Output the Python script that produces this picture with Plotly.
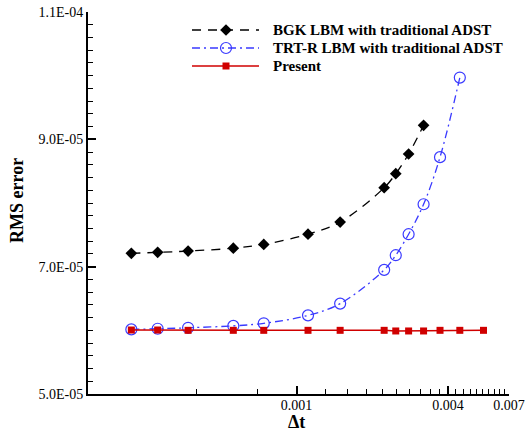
import plotly.graph_objects as go

# Data
dt_bgk = [2.2e-4, 2.8e-4, 3.7e-4, 5.6e-4, 7.4e-4, 1.11e-3, 1.49e-3, 2.23e-3, 2.48e-3, 2.79e-3, 3.2e-3]
rms_bgk = [7.21e-5, 7.225e-5, 7.245e-5, 7.29e-5, 7.35e-5, 7.51e-5, 7.70e-5, 8.24e-5, 8.46e-5, 8.77e-5, 9.22e-5]

dt_trt = [2.2e-4, 2.8e-4, 3.7e-4, 5.6e-4, 7.4e-4, 1.11e-3, 1.49e-3, 2.23e-3, 2.48e-3, 2.79e-3, 3.2e-3, 3.72e-3, 4.46e-3]
rms_trt = [6.015e-5, 6.025e-5, 6.04e-5, 6.07e-5, 6.11e-5, 6.235e-5, 6.42e-5, 6.95e-5, 7.18e-5, 7.51e-5, 7.98e-5, 8.72e-5, 9.97e-5]

dt_present = [2.2e-4, 2.8e-4, 3.7e-4, 5.6e-4, 7.4e-4, 1.11e-3, 1.49e-3, 2.23e-3, 2.48e-3, 2.79e-3, 3.2e-3, 3.72e-3, 4.46e-3, 5.54e-3]
rms_present = [6.005e-5, 6.005e-5, 6.0e-5, 6.0e-5, 6.0e-5, 6.0e-5, 6.0e-5, 6.0e-5, 5.99e-5, 5.99e-5, 5.99e-5, 6.0e-5, 6.0e-5, 6.0e-5]

series_names = ["BGK LBM with traditional ADST", "TRT-R LBM with traditional ADST", "Present"]

x_ticks = [0.001, 0.004, 0.007]
x_ticktext = ["0.001", "0.004", "0.007"]
x_minor = [0.0004, 0.0007] + [round(0.0013 + 0.0003 * i, 5) for i in range(9)] + [round(0.0043 + 0.0003 * i, 5) for i in range(9)]
y_ticks = [5e-5, 7e-5, 9e-5, 1.1e-4]
y_ticktext = ["5.0E-05", "7.0E-05", "9.0E-05", "1.1E-04"]

serif = "Liberation Serif, Times New Roman, serif"

styles = [
    dict(line=dict(color="black", dash="9px,7px", width=1.3),
         marker=dict(symbol="diamond", size=9, color="black")),
    dict(line=dict(color="#3a3aff", dash="8px,4px,2px,4px", width=1.3),
         marker=dict(symbol="circle-open", size=11, color="#3a3aff", line=dict(width=1.2))),
    dict(line=dict(color="#d00000", width=1.5),
         marker=dict(symbol="square", size=7, color="#d00000")),
]

fig = go.Figure()
data_sets = [(dt_bgk, rms_bgk), (dt_trt, rms_trt), (dt_present, rms_present)]
for i, ((xs, ys), name) in enumerate(zip(data_sets, series_names)):
    st = styles[i]
    fig.add_trace(go.Scatter(
        x=xs, y=ys, mode="lines+markers", name=name, showlegend=False,
        line=dict(st["line"], shape="spline" if i < 2 else "linear"),
        marker=st["marker"],
    ))

# Manual legend (Tecplot-like) on an overlay axis in pixel units of the plot area
leg_x0, leg_x1, leg_xm, leg_text_x = 192, 259, 226, 271
leg_rows = [30, 48, 66]
for i, name in enumerate(series_names):
    st = styles[i]
    yrow = leg_rows[i]
    fig.add_trace(go.Scatter(
        x=[leg_x0, leg_x1], y=[yrow, yrow], mode="lines", xaxis="x2", yaxis="y2",
        line=st["line"], showlegend=False, hoverinfo="skip",
    ))
    fig.add_trace(go.Scatter(
        x=[leg_xm], y=[yrow], mode="markers", xaxis="x2", yaxis="y2",
        marker=st["marker"], showlegend=False, hoverinfo="skip",
    ))
    fig.add_annotation(
        x=leg_text_x, y=yrow, xref="x2", yref="y2", text=name, showarrow=False,
        xanchor="left", yanchor="middle",
        font=dict(family=serif, size=15, color="black", weight="bold"),
    )

# Axis titles (paper coordinates; plot area is 421 x 382 px)
title_font = dict(family=serif, size=18, color="black", weight="bold")
fig.add_annotation(x=(296 - 88) / 421, y=-(422 - 394) / 382, xref="paper", yref="paper",
                   text="Δt", showarrow=False, xanchor="center", yanchor="middle", font=title_font)
fig.add_annotation(x=(17 - 88) / 421, y=(394 - 201) / 382, xref="paper", yref="paper",
                   text="RMS error", showarrow=False, xanchor="center", yanchor="middle",
                   textangle=-90, font=title_font)

fig.update_layout(
    width=527, height=433,
    margin=dict(l=88, r=18, t=12, b=39),
    paper_bgcolor="white", plot_bgcolor="white",
    font=dict(family=serif, color="black", size=13),
    showlegend=False,
    xaxis2=dict(overlaying="x", range=[88, 509], visible=False, fixedrange=True),
    yaxis2=dict(overlaying="y", range=[394, 12], visible=False, fixedrange=True),
    xaxis=dict(
        type="log", range=[-3.83, -2.155],
        tickvals=x_ticks, ticktext=x_ticktext,
        ticks="inside", ticklen=8, tickwidth=1.5, tickcolor="black",
        showline=True, linecolor="black", linewidth=2, mirror=False,
        showgrid=False, zeroline=False, ticklabelstandoff=-3,
        tickfont=dict(family=serif, size=14, color="black"),
        minor=dict(tickvals=x_minor, ticks="inside", ticklen=5, tickwidth=1, tickcolor="black", showgrid=False),
        automargin=False,
    ),
    yaxis=dict(
        range=[5e-5, 1.1e-4],
        tickvals=y_ticks, ticktext=y_ticktext,
        ticks="inside", ticklen=8, tickwidth=1.5, tickcolor="black",
        showline=True, linecolor="black", linewidth=2, mirror=False,
        showgrid=False, zeroline=False,
        tickfont=dict(family=serif, size=14, color="black"),
        minor=dict(dtick=2e-6, tick0=5e-5, ticks="inside", ticklen=5, tickwidth=1, tickcolor="black", showgrid=False),
        automargin=False,
    ),
)

fig.write_html("out.html", config={"displayModeBar": False},
               post_script="document.body.style.margin='0';document.body.style.overflow='hidden';")
